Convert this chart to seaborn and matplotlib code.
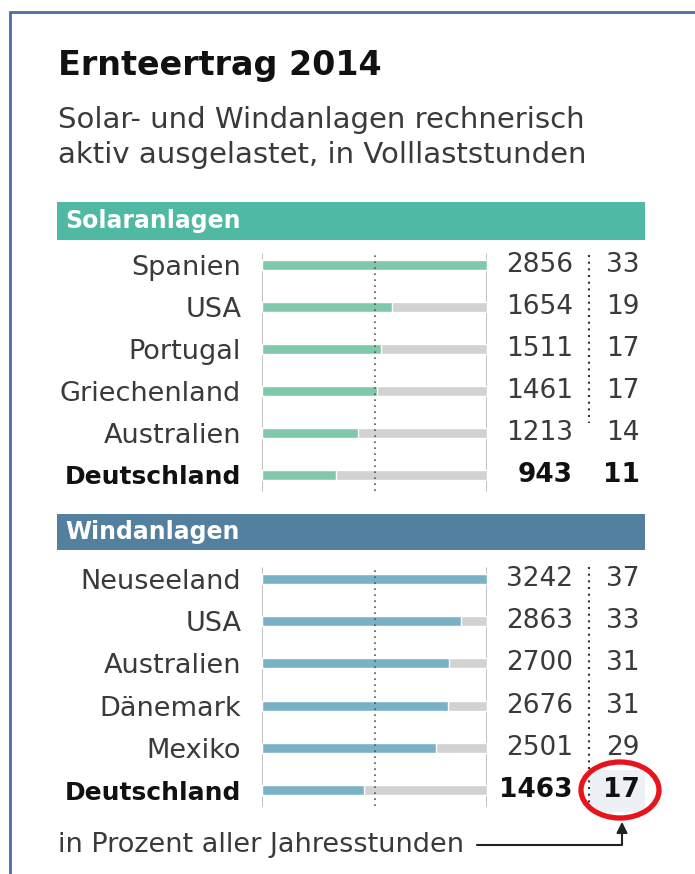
import matplotlib
matplotlib.use('Agg')
import matplotlib.pyplot as plt
import seaborn as sns
import pandas as pd
from matplotlib.patches import Ellipse, Rectangle
from matplotlib.lines import Line2D

sns.set_theme(style='white')
plt.rcParams['font.family'] = ['DejaVu Sans']

# ---------------- data ----------------
title = "Ernteertrag 2014"
subtitle_lines = ["Solar- und Windanlagen rechnerisch",
                  "aktiv ausgelastet, in Volllaststunden"]
footnote = "in Prozent aller Jahresstunden"

solar_countries = ["Spanien", "USA", "Portugal", "Griechenland", "Australien", "Deutschland"]
solar_hours = [2856, 1654, 1511, 1461, 1213, 943]
solar_pct = [33, 19, 17, 17, 14, 11]

wind_countries = ["Neuseeland", "USA", "Australien", "Dänemark", "Mexiko", "Deutschland"]
wind_hours = [3242, 2863, 2700, 2676, 2501, 1463]
wind_pct = [37, 33, 31, 31, 29, 17]

# ---------------- layout ----------------
W, H = 695, 874
fig = plt.figure(figsize=(W / 100, H / 100), dpi=100)
fig.patch.set_facecolor('white')

TXT = '#3a3a3a'
GRAY_BAR = '#d2d2d2'
BAR_L, BAR_R = 262, 487
PW = BAR_R - BAR_L


def fx(x):
    return x / W


def fy(y):
    return 1 - y / H


def panel(first_center, step, countries, hours, pct, color, sep_top, sep_bot, highlight=False):
    n = len(countries)
    top = first_center - step / 2
    height = step * n
    ax = fig.add_axes([fx(BAR_L), fy(top + height), PW / W, height / H])
    df = pd.DataFrame({'land': countries, 'stunden': hours,
                       'voll': [max(hours)] * n})
    sns.barplot(data=df, y='land', x='voll', color=GRAY_BAR, width=0.24,
                saturation=1, ax=ax, zorder=2)
    sns.barplot(data=df, y='land', x='stunden', color=color, width=0.24,
                saturation=1, ax=ax, zorder=3)
    ax.set_xlim(0, max(hours))
    ax.set_ylim(n - 0.5, -0.5)
    ax.set_xlabel('')
    ax.set_ylabel('')
    ax.set_xticks([])
    for s in ax.spines.values():
        s.set_visible(False)
    ax.set_facecolor('none')

    # frame lines and dotted middle line
    y0 = (top + height - (first_center + step * (n - 1) + 16)) / height
    y1 = (top + height - (first_center - 11)) / height
    ax.axvline(0, ymin=y0, ymax=y1, color='#bdbdbd', lw=1.3, zorder=1)
    ax.axvline(max(hours), ymin=y0, ymax=y1, color='#bdbdbd', lw=1.3, zorder=1)
    ax.axvline(max(hours) / 2, ymin=y0, ymax=y1, color='#555555', lw=1.2,
               linestyle=(0, (1, 2.6)), zorder=4)

    # y labels
    ax.set_yticks(range(n))
    ax.set_yticklabels(countries)
    ax.tick_params(axis='y', length=0, pad=15)
    for i, lab in enumerate(ax.get_yticklabels()):
        if countries[i] == 'Deutschland':
            lab.set_fontweight('bold')
            lab.set_color('#111111')
            lab.set_fontsize(18)
        else:
            lab.set_fontsize(19.5)
            lab.set_color(TXT)

    tr = ax.get_yaxis_transform()
    xv = (573 - BAR_L) / PW
    xp = (640 - BAR_L) / PW
    for i, (h, p) in enumerate(zip(hours, pct)):
        bold = countries[i] == 'Deutschland'
        kw = dict(fontsize=19, va='center', ha='right', transform=tr,
                  color='#111111' if bold else TXT,
                  fontweight='bold' if bold else 'normal', zorder=6)
        ax.text(xv, i, f"{h}", **kw)
        ax.text(xp, i, f"{p}", **kw)

    # dotted separator
    xs = (589 - BAR_L) / PW
    ya = (sep_top - first_center) / step
    yb = (sep_bot - first_center) / step
    ax.plot([xs, xs], [ya, yb], transform=tr, color='#333333', lw=1.5,
            linestyle=(0, (1, 2.2)), clip_on=False, zorder=5)

    if highlight:
        i = n - 1
        r0 = (first_center + step * i - 20 - first_center) / step
        r1 = (first_center + step * i + 22 - first_center) / step
        ax.add_patch(Rectangle(((590 - BAR_L) / PW, r0), (645 - 590) / PW, r1 - r0,
                               transform=tr, facecolor='#edf1f6', edgecolor='none',
                               clip_on=False, zorder=4))
    return ax


panel(265, 42, solar_countries, solar_hours, solar_pct, '#7fc8a9', 255, 423)
panel(579, 42.2, wind_countries, wind_hours, wind_pct, '#7ab2c5', 567, 808, highlight=True)

# ---------------- overlay for text and decorations ----------------
ov = fig.add_axes([0, 0, 1, 1], zorder=10)
ov.set_xlim(0, W)
ov.set_ylim(H, 0)
ov.axis('off')
ov.patch.set_alpha(0)

# frame
ov.add_line(Line2D([10, W], [12, 12], color='#4a6fa0', lw=2))
ov.add_line(Line2D([10, 10], [12, H], color='#4a6fa0', lw=2))

ov.text(58, 75, title, fontsize=24, fontweight='bold', color='#111111', va='baseline')
ov.text(58, 128, subtitle_lines[0], fontsize=21, color=TXT, va='baseline')
ov.text(58, 163, subtitle_lines[1], fontsize=21, color=TXT, va='baseline')

# section headers
ov.add_patch(Rectangle((57, 202), 588, 38, facecolor='#4fb9a3', edgecolor='none'))
ov.text(65, 221, "Solaranlagen", fontsize=17, fontweight='bold', color='white', va='center')
ov.add_patch(Rectangle((57, 514), 588, 36, facecolor='#52809e', edgecolor='none'))
ov.text(65, 532, "Windanlagen", fontsize=17, fontweight='bold', color='white', va='center')

# footnote and arrow
ov.text(58, 845, footnote, fontsize=19.5, color=TXT, va='center')
ov.add_line(Line2D([477, 622, 622], [845, 845, 828], color='#222222', lw=1.5))
ov.annotate('', xy=(622, 819), xytext=(622, 830),
            arrowprops=dict(arrowstyle='-|>', color='#222222', lw=1.5,
                            mutation_scale=16))

# red highlight ellipse
ov.add_patch(Ellipse((620, 790), 78, 56, facecolor='none', edgecolor='#e8141c', lw=3.8))

fig.savefig('out.png', dpi=100, facecolor='white')
